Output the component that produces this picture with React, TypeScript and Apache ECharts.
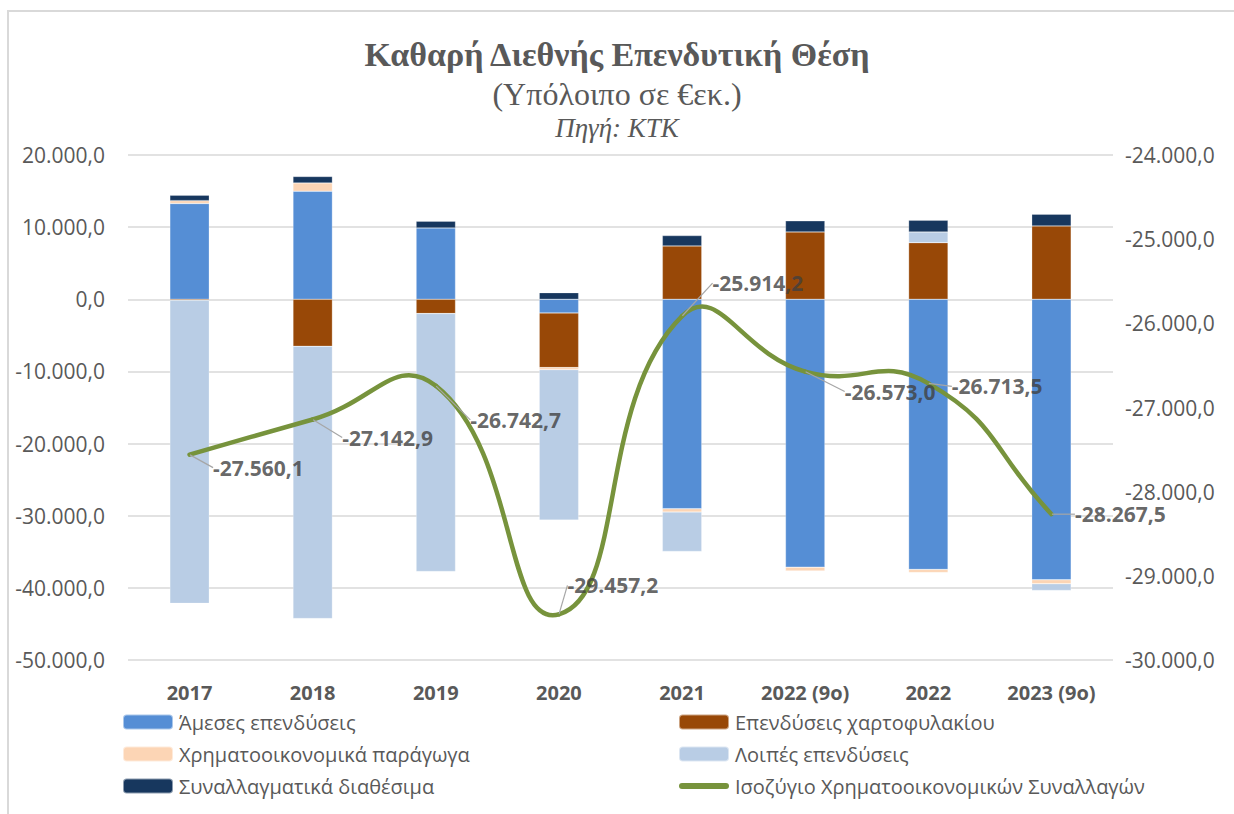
import React, { useEffect, useRef } from "react";
import * as echarts from "echarts";

const categories = ["2017", "2018", "2019", "2020", "2021", "2022 (9ο)", "2022", "2023 (9ο)"];
const directInv = [13275, 14980, 9890, -1900, -29030, -37130, -37450, -38880];
const portfolioInv = [-150, -6520, -1980, -7570, 7400, 9340, 7850, 10170];
const derivatives = [400, 1150, 0, -280, -470, -550, -420, -550];
const otherInv = [-42000, -37730, -35750, -20860, -5450, 0, 1480, -930];
const reserves = [740, 890, 930, 920, 1430, 1530, 1620, 1620];
const financialAccount = [-27560.1, -27142.9, -26742.7, -29457.2, -25914.2, -26573.0, -26713.5, -28267.5];

const seriesNames = [
  "Άμεσες επενδύσεις",
  "Επενδύσεις χαρτοφυλακίου",
  "Χρηματοοικονομικά παράγωγα",
  "Λοιπές επενδύσεις",
  "Συναλλαγματικά διαθέσιμα",
  "Ισοζύγιο Χρηματοοικονομικών Συναλλαγών",
];
const colors = ["#558ed5", "#984807", "#fcd5b5", "#b9cde5", "#17375e", "#77933c"];

const labelOffsets = [
  [23, 13],
  [29, 18],
  [34, 34],
  [8, -29],
  [30, -33],
  [39, 20],
  [23, 3],
  [23, 0],
];

function fmt(v: number): string {
  const neg = v < 0;
  const s = Math.abs(v).toFixed(1);
  const [ip, dp] = s.split(".");
  const withDots = ip.replace(/\B(?=(\d{3})+(?!\d))/g, ".");
  return (neg ? "-" : "") + withDots + "," + dp;
}

export default function App() {
  const ref = useRef<HTMLDivElement>(null);
  useEffect(() => {
    if (!ref.current) return;
    const chart = echarts.init(ref.current, undefined, { renderer: "svg" });
    const textColor = "#595959";
    const sans = "Open Sans";
    const barData = [directInv, portfolioInv, derivatives, otherInv, reserves];
    const bars = barData.map((d, i) => ({
      name: seriesNames[i],
      type: "bar",
      stack: "iip",
      data: d,
      barWidth: "32%",
      itemStyle: { color: colors[i], borderColor: "rgba(255,255,255,0.5)", borderWidth: 0.5 },
      yAxisIndex: 0,
    }));
    const lineIcon = "path://M3,0 L47,0 A3,3 0 0 1 47,6 L3,6 A3,3 0 0 1 3,0 Z";
    const legendCommon = {
      orient: "vertical",
      top: 712,
      padding: 0,
      itemWidth: 50,
      itemHeight: 15,
      itemGap: 12,
      textStyle: { fontFamily: sans, fontSize: 20, color: textColor, padding: [0, 0, 0, 1] },
    };
    const n = financialAccount.length;
    const smoothRenderItem = (params: any, api: any) => {
      const i = params.dataIndex;
      if (i >= n - 1) return null;
      const P = (j: number) => api.coord([j, financialAccount[j]]);
      const dist = (a: number[], b: number[]) => Math.hypot(b[0] - a[0], b[1] - a[1]);
      const s = 0.5;
      const p0 = P(Math.max(i - 1, 0));
      const p1 = P(i);
      const p2 = P(i + 1);
      const p3 = P(Math.min(i + 2, n - 1));
      // outgoing control at p1
      const dPrev1 = dist(p0, p1);
      const dNext1 = dist(p1, p2);
      const r1 = dNext1 / (dPrev1 + dNext1);
      const c1 = [p1[0] + (p2[0] - p0[0]) * s * r1, p1[1] + (p2[1] - p0[1]) * s * r1];
      // incoming control at p2
      const dPrev2 = dist(p1, p2);
      const dNext2 = dist(p2, p3);
      const r2 = dPrev2 / (dPrev2 + dNext2);
      const c2 = [p2[0] - (p3[0] - p1[0]) * s * r2, p2[1] - (p3[1] - p1[1]) * s * r2];
      return {
        type: "bezierCurve",
        shape: { x1: p1[0], y1: p1[1], x2: p2[0], y2: p2[1], cpx1: c1[0], cpy1: c1[1], cpx2: c2[0], cpy2: c2[1] },
        style: { fill: null, stroke: colors[5], lineWidth: 4.5, lineCap: "round" },
      };
    };
    chart.setOption({
      animation: false,
      backgroundColor: "#ffffff",
      title: [
        {
          text: "Καθαρή Διεθνής Επενδυτική Θέση",
          left: "center",
          top: 32,
          textStyle: { fontFamily: "Liberation Serif", fontWeight: "bold", fontSize: 34, color: textColor },
        },
        {
          text: "(Υπόλοιπο σε €εκ.)",
          left: "center",
          top: 73,
          textStyle: { fontFamily: "Liberation Serif", fontWeight: "normal", fontSize: 32, color: textColor },
        },
        {
          text: "Πηγή: ΚΤΚ",
          left: "center",
          top: 109,
          textStyle: { fontFamily: "Liberation Serif", fontStyle: "italic", fontWeight: "normal", fontSize: 27, color: textColor },
        },
      ],
      graphic: [
        {
          type: "rect",
          shape: { x: 8, y: 11, width: 1240, height: 820 },
          style: { fill: "none", stroke: "#d9d9d9", lineWidth: 2 },
          silent: true,
        },
      ],
      legend: [
        {
          ...legendCommon,
          left: 122,
          data: [seriesNames[0], seriesNames[2], seriesNames[4]],
        },
        {
          ...legendCommon,
          left: 678,
          data: [seriesNames[1], seriesNames[3], { name: seriesNames[5], icon: lineIcon }],
        },
      ],
      grid: { left: 128, right: 121, top: 155, bottom: 154 },
      xAxis: {
        type: "category",
        data: categories,
        axisLine: { show: false },
        axisTick: { show: false },
        axisLabel: { fontFamily: sans, fontWeight: "bold", fontSize: 20, color: textColor, margin: 22 },
      },
      yAxis: [
        {
          type: "value",
          min: -50000,
          max: 20000,
          interval: 10000,
          axisLine: { show: false },
          axisTick: { show: false },
          splitLine: { lineStyle: { color: "#d9d9d9", width: 1.5 } },
          axisLabel: { fontFamily: sans, fontSize: 21, color: textColor, margin: 23, formatter: (v: number) => fmt(v) },
        },
        {
          type: "value",
          min: -30000,
          max: -24000,
          interval: 1000,
          axisLine: { show: false },
          axisTick: { show: false },
          splitLine: { show: false },
          axisLabel: { fontFamily: sans, fontSize: 21, color: textColor, margin: 12, formatter: (v: number) => fmt(v) },
        },
      ],
      series: [
        ...bars,
        {
          name: seriesNames[5],
          type: "custom",
          yAxisIndex: 1,
          data: financialAccount.map((v, i) => [i, v]),
          encode: { x: 0, y: 1 },
          renderItem: smoothRenderItem,
          itemStyle: { color: colors[5] },
          clip: false,
          z: 5,
        },
        {
          name: "labels",
          type: "scatter",
          yAxisIndex: 1,
          data: financialAccount,
          symbol: "circle",
          symbolSize: 1,
          itemStyle: { color: "rgba(0,0,0,0)" },
          z: 6,
          label: {
            show: true,
            position: "right",
            distance: 0,
            formatter: (p: any) => fmt(p.value),
            fontFamily: sans,
            fontWeight: "bold",
            fontSize: 21,
            color: "#404040",
          },
          labelLine: { show: true, lineStyle: { color: "#a6a6a6", width: 1.2 } },
          labelLayout: (params: any) => {
            const o = labelOffsets[params.dataIndex] || [0, 0];
            return { dx: o[0], dy: o[1] };
          },
        },
      ],
    } as any);
    return () => chart.dispose();
  }, []);
  return <div ref={ref} style={{ position: "absolute", left: 0, top: 0, width: 1234, height: 814 }} />;
}
